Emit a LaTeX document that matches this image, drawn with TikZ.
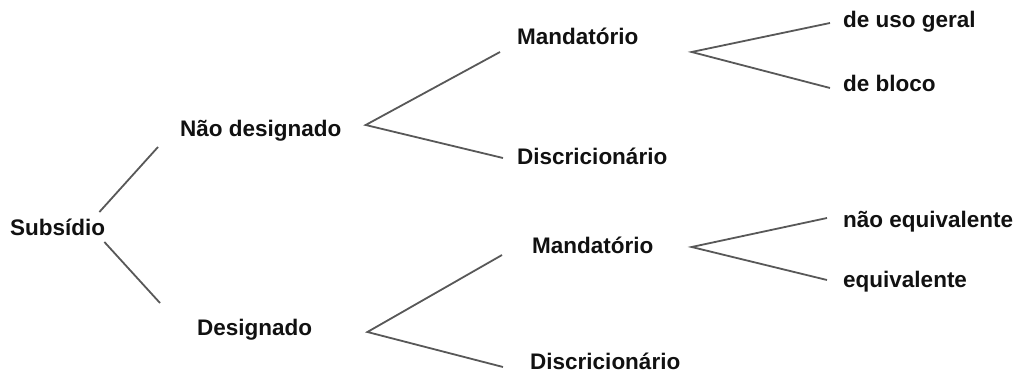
\documentclass[tikz,border=0pt]{standalone}
\usepackage{fontspec}
\setmainfont{Liberation Sans}
\usepackage{tikz}
\definecolor{linegray}{RGB}{88,88,88}
\definecolor{inkblack}{RGB}{17,17,17}

\begin{document}
\begin{tikzpicture}[x=1pt,y=-1pt,
    lbl/.style={anchor=base west,inner sep=0pt,font=\fontsize{22.5}{27}\selectfont\bfseries,text=inkblack},
    branch/.style={draw=linegray,line width=1.8pt}]
        \useasboundingbox (0,0) rectangle (1019,374);
        % labels
        \node[lbl] (sub) at (10,235) {Subsídio};
        \node[lbl] (nd) at (180,137) {Não designado};
        \node[lbl] (des) at (197,335) {Designado};
        \node[lbl] (mtop) at (517,45) {Mandatório};
        \node[lbl] (dtop) at (517,165) {Discricionário};
        \node[lbl] (mbot) at (532,253) {Mandatório};
        \node[lbl] (dbot) at (530,369) {Discricionário};
        \node[lbl] (geral) at (843,28) {de uso geral};
        \node[lbl] (bloco) at (843,92) {de bloco};
        \node[lbl] (naoeq) at (843,227) {não equivalente};
        \node[lbl] (equiv) at (843,287) {equivalente};
        % forks
        \coordinate (fnd) at ([shift={(24,-12)}]nd.base east);
        \coordinate (fdes) at ([shift={(55,-3)}]des.base east);
        \coordinate (fmtop) at ([shift={(53,7)}]mtop.base east);
        \coordinate (fmbot) at ([shift={(38,-6)}]mbot.base east);
        % branches
        \draw[branch] ([shift={(-6,-23)}]sub.base east) -- ([shift={(-22,10)}]nd.base west);
        \draw[branch] ([shift={(-1,7)}]sub.base east) -- ([shift={(-37,-32)}]des.base west);
        \draw[branch] ([shift={(-17,7)}]mtop.base west) -- (fnd) -- ([shift={(-14,-7)}]dtop.base west);
        \draw[branch] ([shift={(-30,2)}]mbot.base west) -- (fdes) -- ([shift={(-27,-2)}]dbot.base west);
        \draw[branch] ([shift={(-13,-5)}]geral.base west) -- (fmtop) -- ([shift={(-13,-4)}]bloco.base west);
        \draw[branch] ([shift={(-16,-9)}]naoeq.base west) -- (fmbot) -- ([shift={(-16,-7)}]equiv.base west);
      \end{tikzpicture}
\end{document}
